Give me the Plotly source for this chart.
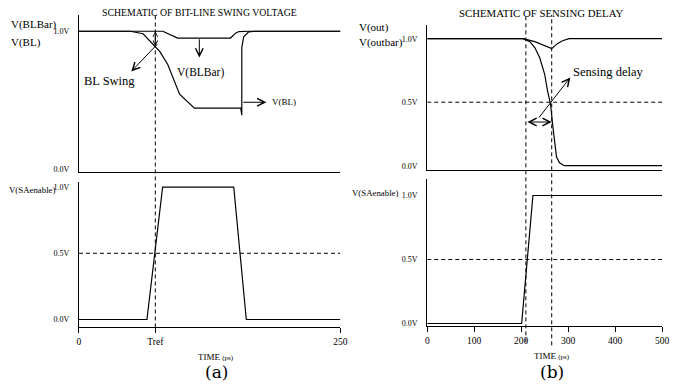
import plotly.graph_objects as go

# ---------------- data ----------------
# (a) top: bit-line voltages (time in ps, volts)
t_bl = [0, 49, 61.3, 70.8, 77.4, 84.9, 91.5, 96.2, 110.4, 154.7, 155.7, 155.7, 157.5, 162.3, 168.9, 250]
v_bl = [1.0, 1.0, 0.982, 0.910, 0.853, 0.760, 0.638, 0.545, 0.444, 0.444, 0.394, 0.882, 0.960, 0.996, 1.0, 1.0]
t_blbar = [0, 80.2, 94.3, 145.0, 149.7, 152.8, 162.0, 250]
v_blbar = [1.0, 1.0, 0.951, 0.951, 0.986, 0.998, 1.0, 1.0]
# (a) bottom: sense-amp enable
t_sa_a = [0, 65, 80, 148, 160, 250]
v_sa_a = [0, 0, 1.0, 1.0, 0, 0]
T_REF = 73
# (b) top: outputs
t_out = [0, 204, 229, 250, 265, 277, 288, 302, 500]
v_out = [1.0, 1.0, 0.977, 0.945, 0.922, 0.961, 0.984, 1.0, 1.0]
t_outbar = [0, 204, 218.5, 229, 239.5, 250, 256.3, 262.6, 266.8, 271, 275.2, 281.5, 292, 500]
v_outbar = [1.0, 1.0, 0.977, 0.93, 0.85, 0.72, 0.586, 0.484, 0.328, 0.172, 0.07, 0.023, 0.0, 0.0]
# (b) bottom: sense-amp enable
t_sa_b = [0, 201, 225, 500]
v_sa_b = [0, 0, 1.0, 1.0]
T_EN_B = 210
T_OUT_B = 265
HALF = 0.5

x_ticks_a = [0, T_REF, 250]
x_text_a = ["0", "Tref", "250"]
x_ticks_b = [0, 100, 200, 300, 400, 500]
x_text_b = ["0", "100", "200", "300", "400", "500"]
y_ticks_2 = [0, 1.0]
y_text_2 = ["0.0V", "1.0V"]
y_ticks_3 = [0, 0.5, 1.0]
y_text_3 = ["0.0V", "0.5V", "1.0V"]

FONT = "Liberation Serif, Times New Roman, serif"
W, H = 675, 388


def px(xp):
    return xp / W


def py(yp):
    return 1 - yp / H


line = dict(color="black", width=1.2)
fig = go.Figure()
fig.add_trace(go.Scatter(x=t_bl, y=v_bl, mode="lines", line=line, xaxis="x", yaxis="y"))
fig.add_trace(go.Scatter(x=t_blbar, y=v_blbar, mode="lines", line=line, xaxis="x", yaxis="y"))
fig.add_trace(go.Scatter(x=t_sa_a, y=v_sa_a, mode="lines", line=line, xaxis="x2", yaxis="y2"))
fig.add_trace(go.Scatter(x=t_out, y=v_out, mode="lines", line=line, xaxis="x3", yaxis="y3"))
fig.add_trace(go.Scatter(x=t_outbar, y=v_outbar, mode="lines", line=line, xaxis="x3", yaxis="y3"))
fig.add_trace(go.Scatter(x=t_sa_b, y=v_sa_b, mode="lines", line=line, xaxis="x4", yaxis="y4"))

tickfont = dict(family=FONT, size=8, color="black")
xtickfont = dict(family=FONT, size=9.5, color="black")


def xax(domain, rng, anchor, ticks=None, text=None):
    d = dict(domain=domain, range=rng, anchor=anchor, showline=True, linecolor="black",
             linewidth=1, showgrid=False, zeroline=False, fixedrange=True)
    if ticks is None:
        d.update(showticklabels=False, ticks="")
    else:
        d.update(tickvals=ticks, ticktext=text, ticks="outside", ticklen=5, tickwidth=1,
                 tickcolor="black", tickfont=xtickfont)
    return d


def yax(domain, rng, anchor, ticks, text):
    return dict(domain=domain, range=rng, anchor=anchor, showline=True, linecolor="black",
                linewidth=1, showgrid=False, zeroline=False, tickvals=ticks, ticktext=text,
                ticks="", tickfont=tickfont, ticklabelstandoff=7, fixedrange=True)


xa_dom = [px(78), px(343)]
xb_dom = [px(431), px(669)]

fig.update_layout(
    width=W, height=H, margin=dict(l=0, r=0, t=0, b=0),
    paper_bgcolor="white", plot_bgcolor="white", showlegend=False,
    xaxis=xax(xa_dom, [0, 250], "y"),
    yaxis=yax([py(173), py(15)], [-0.0143, 1.1183], "x", y_ticks_2, y_text_2),
    xaxis2=xax(xa_dom, [0, 250], "y2", x_ticks_a, x_text_a),
    yaxis2=yax([py(330), py(183)], [-0.0599, 1.0412], "x2", y_ticks_3, y_text_3),
    xaxis3=xax(xb_dom, [0, 500], "y3"),
    yaxis3=yax([py(171), py(25)], [-0.03125, 1.1094], "x3", y_ticks_3, y_text_3),
    xaxis4=xax(xb_dom, [0, 500], "y4", x_ticks_b, x_text_b),
    yaxis4=yax([py(329), py(180)], [-0.0233, 1.1318], "x4", y_ticks_3, y_text_3),
)

dash = dict(color="black", width=1, dash="4px,3px")
shapes = [
    dict(type="line", xref="x", yref="paper", x0=T_REF, x1=T_REF, y0=py(330), y1=py(15), line=dash),
    dict(type="line", xref="x3", yref="paper", x0=T_EN_B, x1=T_EN_B, y0=py(345), y1=py(15), line=dash),
    dict(type="line", xref="x3", yref="paper", x0=T_OUT_B, x1=T_OUT_B, y0=py(348), y1=py(15), line=dash),
    dict(type="line", xref="x2", yref="y2", x0=0, x1=250, y0=HALF, y1=HALF, line=dash),
    dict(type="line", xref="x3", yref="y3", x0=0, x1=500, y0=HALF, y1=HALF, line=dash),
    dict(type="line", xref="x4", yref="y4", x0=0, x1=500, y0=HALF, y1=HALF, line=dash),
]
fig.update_layout(shapes=shapes)

ann = []


def text(x, y, s, size, xanchor="center", xref="paper", yref="paper", family=FONT):
    ann.append(dict(x=x, y=y, xref=xref, yref=yref, text=s, showarrow=False,
                    xanchor=xanchor, yanchor="middle",
                    font=dict(family=family, size=size, color="black")))


def arrow(x, y, ax, ay, xref, yref, both=False, size=1.5):
    d = dict(x=x, y=y, ax=ax, ay=ay, xref=xref, yref=yref, axref=xref, ayref=yref,
             text="", showarrow=True, arrowhead=5, arrowsize=size, arrowwidth=1,
             arrowcolor="black", standoff=0, startstandoff=0)
    if both:
        d.update(arrowside="end+start", startarrowhead=5, startarrowsize=size)
    ann.append(d)


# titles
text(px(200), py(13), "SCHEMATIC OF BIT-LINE SWING VOLTAGE", 9.8)
text(px(546.5), py(13), "SCHEMATIC OF SENSING DELAY", 10.8)
# left-side signal names
text(px(7), py(25), "V(BLBar)", 11, "left")
text(px(7), py(43), "V(BL)", 11, "left")
text(px(5), py(191), "V(SAenable)", 8.8, "left")
text(px(360), py(28), "V(out)", 11, "left")
text(px(360), py(43), "V(outbar)", 11, "left")
text(px(353), py(195), "V(SAenable)", 8.8, "left")
# axis titles and panel labels
time_lbl = "TIME <span style='font-size:7px'>(ps)</span>"
text(px(217), py(360), time_lbl, 9)
text(px(557), py(359), time_lbl, 9)
text(px(217), py(375), "(a)", 17, family="DejaVu Serif")
text(px(557), py(375), "(b)", 17, family="DejaVu Serif")
# in-plot annotations (a)
text(29.2, 0.638, "BL Swing", 12.5, xref="x", yref="y")
text(116, 0.703, "V(BLBar)", 11.5, xref="x", yref="y")
text(183, 0.487, "V(BL)", 9, "left", xref="x", yref="y")
arrow(T_REF, 1.0, T_REF, 0.882, "x", "y", both=True, size=0.9)
arrow(50, 0.71, 76.4, 0.918, "x", "y")
arrow(115.1, 0.81, 115.1, 0.953, "x", "y")
arrow(179.2, 0.487, 155.7, 0.487, "x", "y")
# in-plot annotations (b)
text(306.7, 0.734, "Sensing delay", 12.5, "left", xref="x3", yref="y3")
arrow(304.6, 0.695, 235.3, 0.367, "x3", "y3")
arrow(T_OUT_B, 0.344, T_EN_B, 0.344, "x3", "y3", both=True)

fig.update_layout(annotations=ann)
fig.write_html("out.html")
